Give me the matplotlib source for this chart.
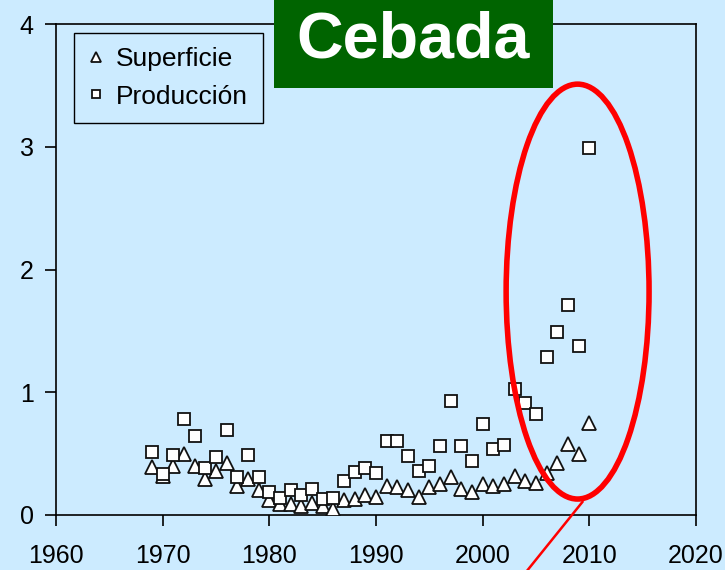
import matplotlib
matplotlib.use("Agg")
import matplotlib.pyplot as plt
from matplotlib.patches import Ellipse, Rectangle
from matplotlib.lines import Line2D

plt.rcParams['font.family'] = ['Liberation Sans', 'DejaVu Sans']

years = list(range(1969, 2011))
superficie = [0.39, 0.32, 0.40, 0.50, 0.40, 0.29, 0.36, 0.42, 0.24, 0.29,
              0.20, 0.12, 0.09, 0.09, 0.07, 0.10, 0.07, 0.05, 0.12, 0.13,
              0.16, 0.15, 0.24, 0.23, 0.20, 0.15, 0.23, 0.25, 0.31, 0.21,
              0.19, 0.25, 0.24, 0.25, 0.32, 0.28, 0.26, 0.34, 0.42, 0.58,
              0.50, 0.75]
produccion = [0.51, 0.33, 0.49, 0.78, 0.64, 0.38, 0.47, 0.69, 0.31, 0.49,
              0.31, 0.19, 0.14, 0.20, 0.16, 0.21, 0.13, 0.14, 0.28, 0.35,
              0.38, 0.34, 0.60, 0.60, 0.48, 0.36, 0.40, 0.56, 0.93, 0.56,
              0.44, 0.74, 0.54, 0.57, 1.03, 0.91, 0.82, 1.29, 1.49, 1.71,
              1.38, 2.99]
xticks = [1960, 1970, 1980, 1990, 2000, 2010, 2020]
yticks = [0, 1, 2, 3, 4]
title = "Cebada"
labels = ["Superficie", "Producción"]

bg = '#CCEBFF'
fig = plt.figure(figsize=(7.25, 5.7), dpi=100, facecolor=bg)
ax = fig.add_axes([56/725, 1 - 515/570, 640/725, 491/570])
ax.set_facecolor(bg)

ax.plot(years, superficie, linestyle='none', marker='^', markersize=10,
        markerfacecolor='white', markeredgecolor='#111111', markeredgewidth=1.3,
        label=labels[0], zorder=3)
ax.plot(years, produccion, linestyle='none', marker='s', markersize=9.2,
        markerfacecolor='white', markeredgecolor='#111111', markeredgewidth=1.3,
        label=labels[1], zorder=3)

ax.set_xlim(1960, 2020)
ax.set_ylim(0, 4)
ax.set_xticks(xticks)
ax.set_yticks(yticks)
ax.tick_params(direction='out', length=8, width=1.2, labelsize=18, color='black', pad=13)
ax.tick_params(axis='y', pad=8)
for s in ax.spines.values():
    s.set_linewidth(1.2)
    s.set_color('black')

leg = ax.legend(loc='upper left', bbox_to_anchor=(0.028, 0.982), borderaxespad=0,
                fontsize=19, markerscale=0.7, handlelength=0.6, handletextpad=0.45,
                labelspacing=0.5, borderpad=0.55, fancybox=False, frameon=True,
                edgecolor='black', facecolor=bg, framealpha=1)
leg.get_frame().set_linewidth(1.0)

# red ellipse and pointer line
ell = Ellipse((2008.9, 1.82), 13.4, 3.38, fill=False, edgecolor='#FF0000',
              linewidth=4, clip_on=False, zorder=5)
ax.add_patch(ell)
ax.add_line(Line2D([2009.35, 2004.2], [0.106, -0.45], color='#FF0000', linewidth=1.8,
                   clip_on=False, zorder=5))

# title box
fig.add_artist(Rectangle((274/725, 1 - 88/570), (553-274)/725, 88/570,
                         transform=fig.transFigure, facecolor='#006400',
                         edgecolor='none', zorder=10))
fig.text(413.5/725, 1 - 41/570, title, color='white', fontsize=46.5, fontweight='bold',
         ha='center', va='center', zorder=11)

fig.savefig('out.png', dpi=100, facecolor=bg)
